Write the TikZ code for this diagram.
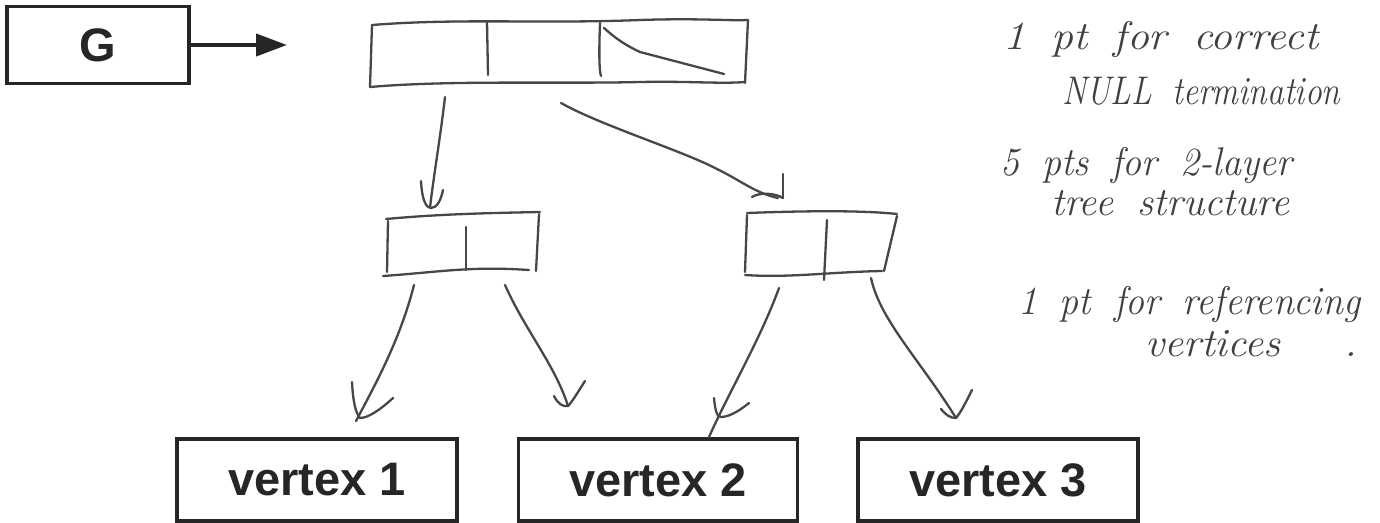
\documentclass[tikz,border=0pt]{standalone}
\usepackage{fontspec}
\newfontfamily\lsans{Liberation Sans}
\usetikzlibrary{arrows.meta}
\newcommand\handfont{\itshape\fontsize{40}{44}\selectfont\spaceskip=0.6em\relax}
\newcommand\fitto[2]{\resizebox{#1}{\height}{#2}}
\tikzset{
  pen/.style={draw=black!72, line width=2.3pt, line cap=round, line join=round},
  printbox/.style={draw=black!85, line width=3.6pt, fill=white, inner sep=0pt,
    font=\lsans\bfseries\fontsize{47}{50}\selectfont, text=black!85},
  hand/.style={anchor=base west, inner sep=0pt, text=black!75, font=\handfont},
}
\begin{document}
\begin{tikzpicture}[x=1pt,y=-1pt]
\useasboundingbox (0,0) rectangle (1380,522);

% printed boxes
\node[printbox, minimum width=182pt, minimum height=77pt] (G) at (98,45) {G};
\coordinate (gtip) at (287,45);
\draw[draw=black!85, line width=4pt, -{Triangle[length=31pt,width=22pt]}] (G.east) -- (gtip);

\node[printbox, minimum width=280pt, minimum height=82pt] (v1) at (317,480) {\raisebox{-5pt}{vertex 1}};
\node[printbox, minimum width=279pt, minimum height=82pt] (v2) at (658,480) {\raisebox{-5pt}{vertex 2}};
\node[printbox, minimum width=280pt, minimum height=82pt] (v3) at (998,480) {\raisebox{-5pt}{vertex 3}};

% hand-drawn top array (three cells, last one NULL)
\node[inner sep=0pt, minimum width=376pt, minimum height=64pt] (top) at (559,53) {};
\draw[pen] (372,25) .. controls (460,18) and (540,24) .. (640,20) .. controls (700,18) and (730,21) .. (748,20);
\draw[pen] (748,20) -- (745,83);
\draw[pen] (372,25) -- (370,87);
\draw[pen] (370,87) .. controls (450,80) and (560,84) .. (640,82) .. controls (690,81) and (720,84) .. (745,82);
\draw[pen] (487,22) -- (488,75);
\draw[pen] (600,23) .. controls (599,50) and (599,70) .. (601,76);
\draw[pen] (604,28) .. controls (615,38) and (625,45) .. (640,52) -- (724,74);

% hand-drawn middle arrays
\node[inner sep=0pt, minimum width=152pt, minimum height=60pt] (m1) at (462,245) {};
\draw[pen] (386,219) .. controls (440,214) and (490,213) .. (540,212);
\draw[pen] (388,221) -- (387,272);
\draw[pen] (383,276) .. controls (440,272) and (470,266) .. (529,270);
\draw[pen] (539,214) -- (536,271);
\draw[pen] (466,227) -- (466,270);

\node[inner sep=0pt, minimum width=152pt, minimum height=60pt] (m2) at (822,243) {};
\draw[pen] (747,213) .. controls (800,211) and (860,210) .. (897,214);
\draw[pen] (747,215) -- (745,272);
\draw[pen] (745,275) .. controls (790,278) and (830,272) .. (882,271);
\draw[pen] (897,216) -- (884,271);
\draw[pen] (827,220) -- (824,280);

% connectors from top array
\coordinate (a1s) at (445,97);
\coordinate (a1e) at (430,208);
\draw[pen] (a1s) .. controls (440,140) and (433,180) .. (a1e);
\draw[pen] (421,181) .. controls (422,200) and (426,208) .. (431,208) .. controls (437,208) and (441,200) .. (443,190);

\coordinate (a2s) at (561,103);
\coordinate (a2e) at (778,198);
\draw[pen] (a2s) .. controls (600,125) and (680,150) .. (715,168) .. controls (740,180) and (755,193) .. (a2e);
\draw[pen] (783,174) -- (783,198);
\draw[pen] (752,197) .. controls (760,192) and (775,193) .. (783,198);

% connectors from middle arrays to vertices
\coordinate (b1s) at (414,285);
\coordinate (b1e) at (356,421);
\draw[pen] (b1s) .. controls (400,340) and (375,385) .. (b1e);
\draw[pen] (352,382) .. controls (353,400) and (355,412) .. (360,418);
\draw[pen] (393,398) .. controls (380,410) and (368,418) .. (360,418);

\coordinate (b2s) at (505,285);
\coordinate (b2e) at (568,406);
\draw[pen] (b2s) .. controls (525,330) and (555,365) .. (b2e);
\draw[pen] (554,396) .. controls (558,404) and (563,407) .. (568,406);
\draw[pen] (585,381) .. controls (578,392) and (572,402) .. (568,406);

\coordinate (b3s) at (779,288);
\coordinate (b3e) at (709,437);
\draw[pen] (b3s) .. controls (760,340) and (730,390) .. (b3e);
\draw[pen] (714,398) .. controls (715,410) and (717,417) .. (721,417);
\draw[pen] (749,403) .. controls (738,412) and (728,417) .. (721,417);

\coordinate (b4s) at (871,278);
\coordinate (b4e) at (956,418);
\draw[pen] (b4s) .. controls (880,320) and (920,360) .. (b4e);
\draw[pen] (941,409) .. controls (946,415) and (950,418) .. (956,418);
\draw[pen] (972,390) .. controls (966,402) and (961,412) .. (956,418);

% handwritten notes
\node[hand] (n1) at (1003,49) {\fitto{315pt}{1 pt for correct}};
\node[hand] (n2) at (1062,104) {\fitto{278pt}{NULL termination}};
\node[hand] (n3) at (1000,175) {\fitto{292pt}{5 pts for 2-layer}};
\node[hand] (n4) at (1051,215) {\fitto{238pt}{tree structure}};
\node[hand] (n5) at (1018,314) {\fitto{342pt}{1 pt for referencing}};
\node[hand] (n6) at (1145,356) {\fitto{212pt}{vertices\hspace{60pt}.}};
\end{tikzpicture}
\end{document}
